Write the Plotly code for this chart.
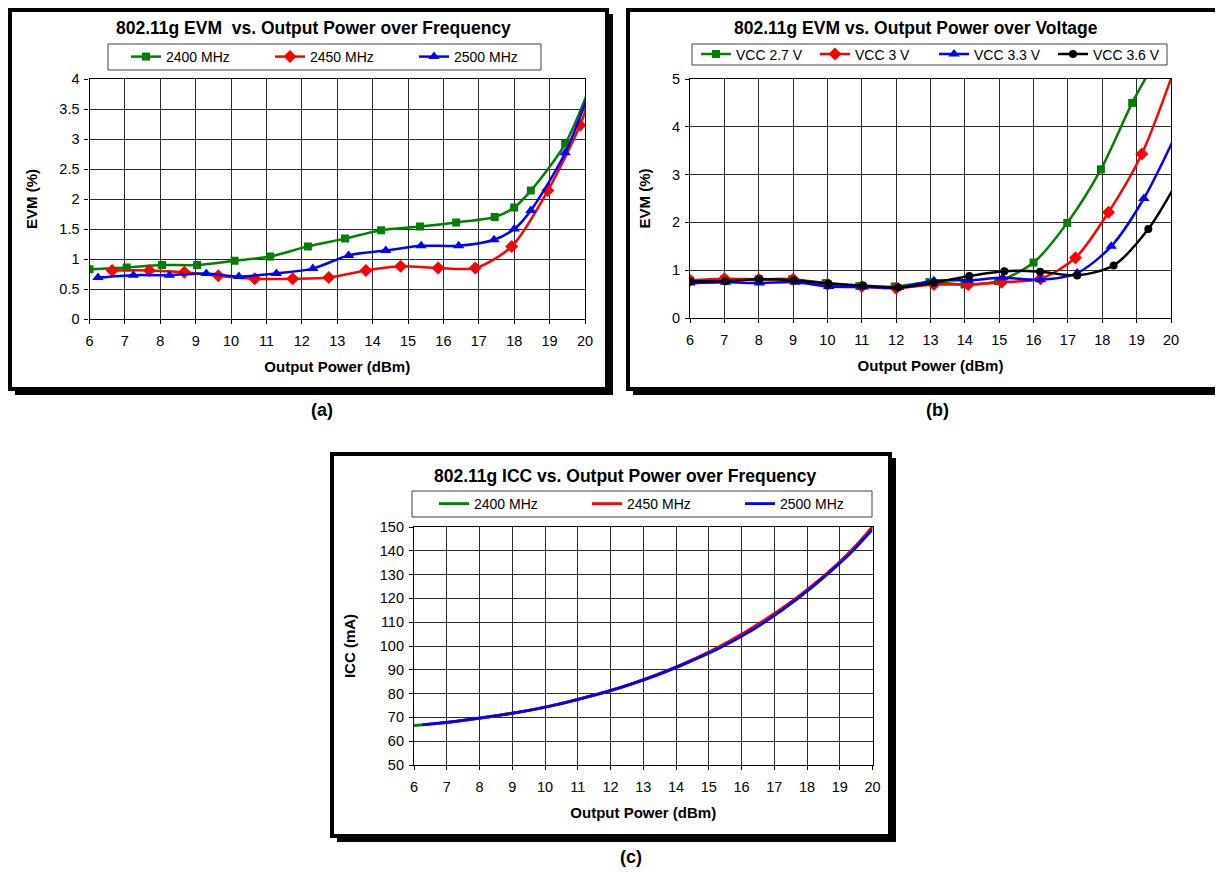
import plotly.graph_objects as go

# ---------------- data: (a) EVM vs output power over frequency ----------------
evm_f_names = ["2400 MHz", "2450 MHz", "2500 MHz"]
evm_2400_x = [6.0, 7.05, 8.05, 9.04, 10.1, 11.1, 12.17, 13.22, 14.24, 15.34, 16.36, 17.45, 18.0, 18.47, 19.44, 20.17]
evm_2400_y = [0.83, 0.86, 0.90, 0.90, 0.97, 1.04, 1.21, 1.34, 1.48, 1.54, 1.61, 1.70, 1.86, 2.14, 2.92, 3.92]
evm_2450_x = [6.64, 7.69, 8.68, 9.64, 10.67, 11.74, 12.76, 13.81, 14.79, 15.85, 16.9, 17.93, 18.95, 19.86, 20.17]
evm_2450_y = [0.81, 0.81, 0.78, 0.72, 0.67, 0.67, 0.69, 0.81, 0.88, 0.85, 0.85, 1.21, 2.14, 3.23, 3.75]
evm_2500_x = [6.24, 7.24, 8.26, 9.3, 10.22, 11.28, 12.31, 13.32, 14.37, 15.37, 16.43, 17.43, 18.0, 18.47, 19.44, 20.17]
evm_2500_y = [0.69, 0.73, 0.73, 0.76, 0.71, 0.76, 0.84, 1.06, 1.14, 1.22, 1.22, 1.32, 1.50, 1.81, 2.77, 3.86]

# ---------------- data: (b) EVM vs output power over voltage ----------------
vcc_names = ["VCC 2.7 V", "VCC 3 V", "VCC 3.3 V", "VCC 3.6 V"]
vcc27_x = [6.0, 7.0, 8.0, 8.97, 9.95, 10.93, 11.96, 12.97, 13.99, 14.97, 16.0, 16.98, 17.96, 18.87, 19.35]
vcc27_y = [0.78, 0.81, 0.81, 0.81, 0.73, 0.67, 0.66, 0.75, 0.70, 0.77, 1.16, 1.99, 3.11, 4.50, 5.13]
vcc30_x = [6.0, 7.0, 8.0, 9.0, 10.0, 11.0, 12.0, 13.1, 14.1, 15.07, 16.2, 17.22, 18.18, 19.15, 20.17]
vcc30_y = [0.79, 0.82, 0.81, 0.81, 0.70, 0.66, 0.62, 0.70, 0.70, 0.75, 0.82, 1.26, 2.21, 3.43, 5.35]
vcc33_x = [6.0, 7.03, 8.02, 9.06, 10.04, 11.04, 12.07, 13.1, 14.1, 15.1, 16.2, 17.27, 18.26, 19.21, 20.17]
vcc33_y = [0.73, 0.75, 0.73, 0.75, 0.66, 0.65, 0.64, 0.78, 0.79, 0.84, 0.80, 0.94, 1.50, 2.50, 3.88]
vcc36_x = [6.0, 7.03, 8.02, 9.03, 10.03, 11.04, 12.06, 13.1, 14.13, 15.15, 16.19, 17.27, 18.33, 19.34, 20.16]
vcc36_y = [0.77, 0.77, 0.81, 0.79, 0.72, 0.68, 0.64, 0.74, 0.88, 0.98, 0.97, 0.89, 1.10, 1.86, 2.82]

# ---------------- data: (c) ICC vs output power over frequency ----------------
icc_2400_x = [6.0, 7.0, 8.0, 9.0, 10.0, 11.0, 12.0, 13.0, 14.0, 15.0, 16.0, 17.0, 18.0, 19.0, 20.0]
icc_2400_y = [66.6, 67.8, 69.7, 71.8, 74.3, 77.6, 81.2, 85.8, 91.2, 97.2, 104.6, 113.4, 123.5, 135.2, 149.9]
icc_2450_x = [6.6, 7.6, 8.6, 9.6, 10.6, 11.6, 12.6, 13.6, 14.6, 15.6, 16.6, 17.6, 18.6, 19.6, 20.0]
icc_2450_y = [67.3, 68.9, 70.9, 73.2, 76.2, 79.8, 83.9, 88.9, 94.8, 101.8, 110.0, 119.4, 130.4, 143.6, 150.3]
icc_2500_x = [6.25, 7.25, 8.25, 9.25, 10.25, 11.25, 12.25, 13.25, 14.25, 15.25, 16.25, 17.25, 18.25, 19.25, 20.0]
icc_2500_y = [66.9, 68.3, 70.2, 72.3, 75.0, 78.4, 82.3, 86.9, 92.4, 98.6, 106.1, 115.2, 125.8, 138.0, 149.0]

x_ticks = list(range(6, 21))

# ---------------- layout helpers (page pixel -> paper) ----------------
# the page body has an 8 px margin, so the figure is placed at (8, 8)
OX, OY = 8, 8
FW, FH = 1223 - OX, 872 - OY
FONT = "Liberation Sans, Arial, sans-serif"
GREEN, RED, BLUE, BLACK = "#008000", "#FF0000", "#0000FF", "#000000"
GRID = "#2a2a2a"


def fx(px):
    return (px - OX) / FW


def fy(py):
    return 1 - (py - OY) / FH


fig = go.Figure()


def add(x, y, name, color, symbol, msize, xa, ya, leg, markers=True, width=2.5):
    fig.add_trace(go.Scatter(
        x=x, y=y, name=name,
        mode="lines+markers" if markers else "lines",
        line=dict(color=color, width=width, shape="spline", smoothing=0.8),
        marker=dict(symbol=symbol, size=msize, color=color, line=dict(width=0)),
        xaxis=xa, yaxis=ya, legend=leg,
    ))


# (a)
add(evm_2400_x, evm_2400_y, evm_f_names[0], GREEN, "square", 8, "x", "y", "legend")
add(evm_2450_x, evm_2450_y, evm_f_names[1], RED, "diamond", 10, "x", "y", "legend")
add(evm_2500_x, evm_2500_y, evm_f_names[2], BLUE, "triangle-up", 10, "x", "y", "legend")
# (b)
add(vcc27_x, vcc27_y, vcc_names[0], GREEN, "square", 8, "x2", "y2", "legend2")
add(vcc30_x, vcc30_y, vcc_names[1], RED, "diamond", 10, "x2", "y2", "legend2")
add(vcc33_x, vcc33_y, vcc_names[2], BLUE, "triangle-up", 10, "x2", "y2", "legend2")
add(vcc36_x, vcc36_y, vcc_names[3], BLACK, "circle", 8, "x2", "y2", "legend2")
# (c)
add(icc_2400_x, icc_2400_y, evm_f_names[0], GREEN, "circle", 1, "x3", "y3", "legend3", markers=False, width=2.8)
add(icc_2450_x, icc_2450_y, evm_f_names[1], RED, "circle", 1, "x3", "y3", "legend3", markers=False, width=2.8)
add(icc_2500_x, icc_2500_y, evm_f_names[2], BLUE, "circle", 1, "x3", "y3", "legend3", markers=False, width=2.8)

tickfont = dict(family=FONT, size=14.5, color="black")
titlefont = dict(family=FONT, size=15, color="black", weight="bold")


def xax(x0, x1, anchor):
    return dict(domain=[fx(x0), fx(x1)], range=[6, 20], tickvals=x_ticks, anchor=anchor,
                showline=True, linecolor="black", linewidth=1.2, mirror=True,
                ticks="outside", ticklen=4, tickcolor="black", tickwidth=1,
                ticklabelstandoff=4,
                showgrid=True, gridcolor=GRID, gridwidth=1.2, zeroline=False,
                tickfont=tickfont, automargin=False, fixedrange=True,
                title=dict(text="Output Power (dBm)", font=titlefont, standoff=13))


def yax(y0, y1, rng, dtick, anchor, title, standoff):
    return dict(domain=[fy(y1), fy(y0)], range=rng, dtick=dtick, tick0=rng[0], anchor=anchor,
                showline=True, linecolor="black", linewidth=1.2, mirror=True,
                ticks="outside", ticklen=4, tickcolor="black", tickwidth=1,
                ticklabelstandoff=2,
                showgrid=True, gridcolor=GRID, gridwidth=1.2, zeroline=False,
                tickfont=tickfont, automargin=False, fixedrange=True,
                title=dict(text=title, font=titlefont, standoff=standoff))


def leg(xp, yp, ew):
    return dict(x=fx(xp), y=fy(yp), xanchor="left", yanchor="middle", orientation="h",
                entrywidth=ew, entrywidthmode="pixels", bgcolor="rgba(0,0,0,0)",
                borderwidth=0, font=dict(family=FONT, size=14, color="black"),
                itemclick=False, itemdoubleclick=False)


def frame(x0, y0, x1, y1):
    return [
        dict(type="rect", xref="paper", yref="paper", layer="below",
             x0=fx(x0 + 5), x1=fx(x1 + 6), y0=fy(y0 + 4), y1=fy(y1 + 6),
             fillcolor="black", line=dict(width=0)),
        dict(type="rect", xref="paper", yref="paper", layer="below",
             x0=fx(x0), x1=fx(x1), y0=fy(y0), y1=fy(y1),
             fillcolor="white", line=dict(color="black", width=4)),
    ]


def legbox(x0, y0, x1, y1):
    return dict(type="rect", xref="paper", yref="paper", layer="below",
                x0=fx(x0), x1=fx(x1), y0=fy(y0), y1=fy(y1),
                fillcolor="rgba(0,0,0,0)", line=dict(color="#404040", width=1))


shapes = []
shapes += frame(10, 10, 607, 389)
shapes += frame(628, 10, 1240, 389)
shapes += frame(332, 454, 890, 836)
shapes += [legbox(108, 44, 541, 70), legbox(692, 44, 1167, 65), legbox(412, 491, 872, 517)]


def ann(text, xp, yp, size):
    return dict(text=text, x=fx(xp), y=fy(yp), xref="paper", yref="paper",
                xanchor="center", yanchor="middle", showarrow=False,
                font=dict(family=FONT, size=size, color="black", weight="bold"))


annotations = [
    ann("802.11g EVM\u00a0 vs. Output Power over Frequency", 313, 28, 17.5),
    ann("802.11g EVM vs. Output Power over Voltage", 916, 28, 17.5),
    ann("802.11g ICC vs. Output Power over Frequency", 625, 476, 17.5),
    ann("(a)", 322, 410, 18),
    ann("(b)", 937, 410, 18),
    ann("(c)", 631, 857, 18),
]

fig.update_layout(
    width=FW, height=FH, autosize=False,
    margin=dict(l=0, r=0, t=0, b=0, pad=0),
    paper_bgcolor="white", plot_bgcolor="white",
    showlegend=True,
    xaxis=xax(89.5, 585, "y"),
    yaxis=yax(79, 319, [0, 4], 0.5, "x", "EVM (%)", 18),
    xaxis2=xax(690, 1171, "y2"),
    yaxis2=yax(79, 318, [0, 5], 1, "x2", "EVM (%)", 17),
    xaxis3=xax(414, 872.5, "y3"),
    yaxis3=yax(527, 765, [50, 150], 10, "x3", "ICC (mA)", 20),
    legend=leg(126, 57, 99),
    legend2=leg(696, 54.5, 74),
    legend3=leg(434, 504, 108),
    shapes=shapes,
    annotations=annotations,
)

fig.write_html("out.html")
